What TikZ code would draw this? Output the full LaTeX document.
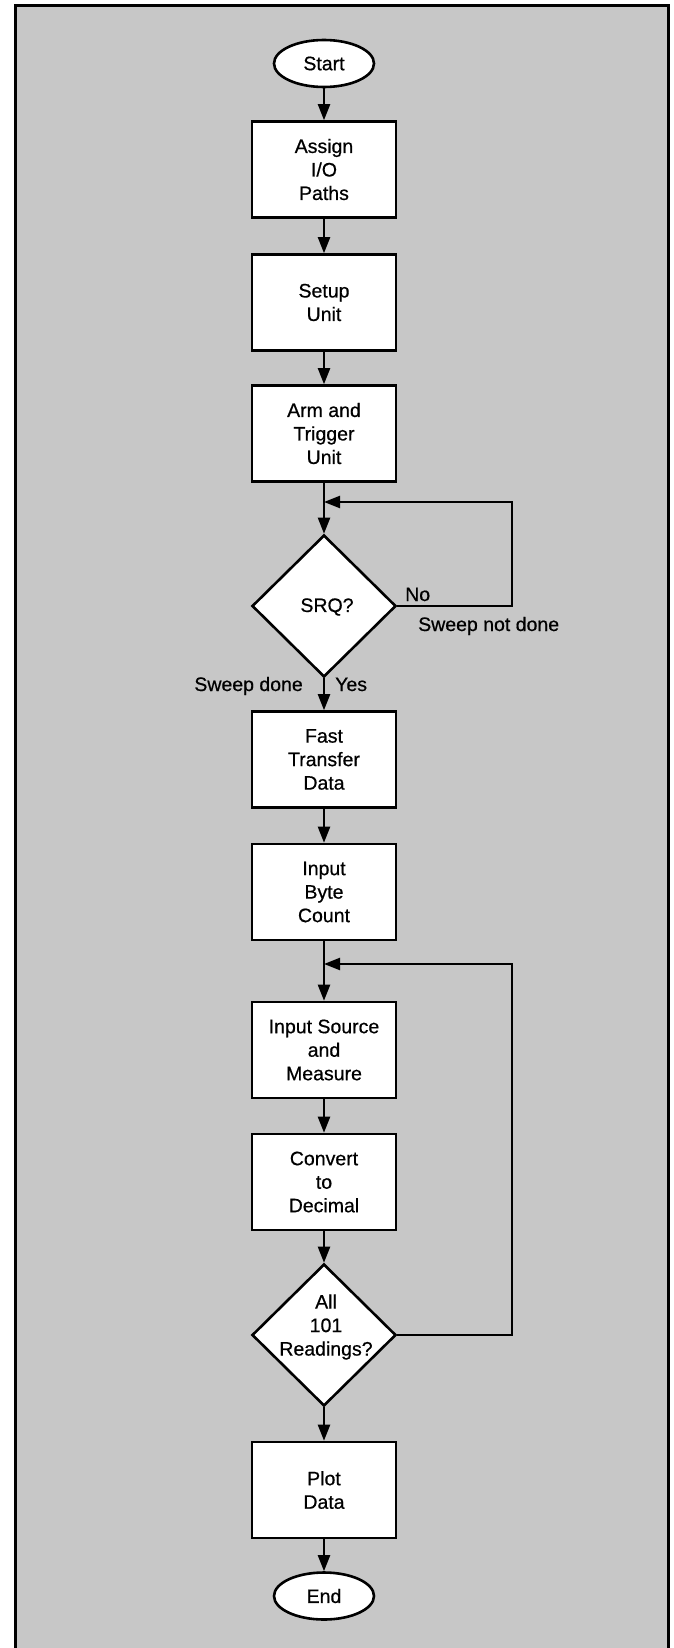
\documentclass[tikz,border=0pt]{standalone}
\usepackage{fontspec}
\setmainfont{Liberation Sans}
\newfontfamily\chartfont{Liberation Sans}[FakeBold=0.6]
\usetikzlibrary{shapes.geometric,arrows.meta}
\begin{document}
\begin{tikzpicture}[x=1pt,y=-1pt,
  every node/.style={font=\chartfont\fontsize{19.5}{23.5}\selectfont},
  proc/.style={draw, line width=2.6pt, fill=white, minimum width=144pt, minimum height=96pt, inner sep=0pt, align=center},
  term/.style={draw, ellipse, line width=2.6pt, fill=white, minimum width=100pt, minimum height=47pt, inner sep=0pt},
  decision/.style={draw, diamond, line width=2.6pt, fill=white, minimum width=144pt, minimum height=142pt, inner sep=0pt},
  dtext/.style={align=center, inner sep=0pt},
  arr/.style={line width=2.2pt, -{Triangle[length=16pt,width=12pt]}},
  lbl/.style={inner sep=0pt},
  frame/.style={line width=3pt}
]
\useasboundingbox (0,0) rectangle (673,1648);
\fill[black!22] (15,6) rectangle (668,1670);
\draw[frame] (15,1670) -- (15,6) -- (668,6) -- (668,1670);

\node[term] (start) at (324,63.5) {Start};
\node[proc] (assign) at (324,169.5) {Assign\\I/O\\Paths};
\node[proc] (setup) at (324,302.5) {Setup\\Unit};
\node[proc] (arm) at (324,433.5) {Arm and\\Trigger\\Unit};
\node[decision] (srq) at (324,606) {};
\node[dtext] (srqt) at (327,607) {SRQ?};
\node[proc] (fast) at (324,759.5) {Fast\\Transfer\\Data};
\node[proc] (byte) at (324,892) {Input\\Byte\\Count};
\node[proc] (meas) at (324,1050) {Input Source\\and\\Measure};
\node[proc] (conv) at (324,1182) {Convert\\to\\Decimal};
\node[decision] (all) at (324,1335) {};
\node[dtext] (allt) at (326,1327) {All\\101\\Readings?};
\node[proc] (plot) at (324,1490) {Plot\\Data};
\node[term] (end) at (324,1596) {End};

\coordinate (lx) at (512,0);
\coordinate (j1) at (324,502);
\coordinate (j2) at (324,964);

\draw[arr] (start) -- (assign);
\draw[arr] (assign) -- (setup);
\draw[arr] (setup) -- (arm);
\draw[arr] (arm) -- (srq);
\draw[arr] (srq.east) -- (srq.east -| lx) |- (j1);
\draw[arr] (srq) -- (fast);
\draw[arr] (fast) -- (byte);
\draw[arr] (byte) -- (meas);
\draw[arr] (meas) -- (conv);
\draw[arr] (conv) -- (all);
\draw[arr] (all.east) -- (all.east -| lx) |- (j2);
\draw[arr] (all) -- (plot);
\draw[arr] (plot) -- (end);

\node[lbl, anchor=base west] (no) at (405,601) {No};
\node[lbl, anchor=base west] (snd) at (418,631) {Sweep not done};
\node[lbl, anchor=base east] (sd) at (303,691) {Sweep done};
\node[lbl, anchor=base west] (yes) at (335,691) {Yes};
\end{tikzpicture}
\end{document}
